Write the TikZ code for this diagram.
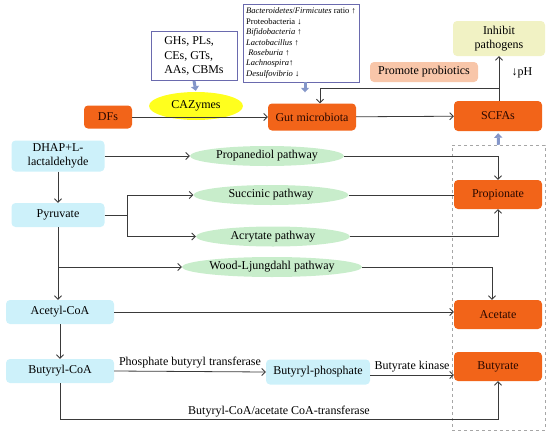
\documentclass[tikz,border=0pt]{standalone}
\usepackage{fontspec}
\setmainfont{Liberation Serif}
\usetikzlibrary{positioning, fit, arrows.meta, shapes.geometric}
\definecolor{scfaorange}{HTML}{F26419}
\definecolor{srccyan}{HTML}{CDF1FA}
\definecolor{pathgreen}{HTML}{C8EDCB}
\definecolor{cazyellow}{HTML}{FFFF1E}
\definecolor{probpeach}{HTML}{F8C6A9}
\definecolor{inhibyellow}{HTML}{F1F2C4}
\definecolor{boxnavy}{HTML}{6A6AAE}
\definecolor{fatblue}{HTML}{8496C9}
\definecolor{linegray}{HTML}{3A3A3A}
\definecolor{prodtext}{HTML}{2A0800}

\begin{document}
\begin{tikzpicture}[x=1pt, y=-1pt,
  prod/.style={fill=scfaorange, rounded corners=4pt, align=center,
               font=\fontsize{12}{14}\selectfont\color{prodtext},
               minimum width=88pt, minimum height=29pt, inner sep=2pt},
  src/.style={fill=srccyan, rounded corners=4pt, align=center,
              font=\fontsize{12}{14}\selectfont,
              minimum width=93pt, minimum height=24pt, inner sep=2pt},
  pway/.style={ellipse, fill=pathgreen, font=\fontsize{12}{14}\selectfont,
               minimum width=155pt, minimum height=20pt, inner sep=1pt},
  soft/.style={rounded corners=4pt, align=center,
               font=\fontsize{12}{14}\selectfont, inner sep=2pt},
  arr/.style={draw=linegray, line width=0.8pt,
              -{Straight Barb[length=3.5pt, width=7pt]}},
  plain/.style={draw=linegray, line width=0.8pt},
  fat/.style={draw=fatblue, line width=3pt, -{Triangle[length=4.5pt, width=8pt]}},
  lbl/.style={font=\fontsize{12}{14}\selectfont, inner sep=2pt},
]
\useasboundingbox (0,0) rectangle (550,437);

%% ---- Top row: fibre, enzymes, microbiota ----

\node[draw=boxnavy, line width=0.8pt, fill=white, align=left,
      font=\fontsize{12}{14.5}\selectfont,
      minimum width=86pt, minimum height=49pt] (ghs) at (194,56)
    {GHs, PLs,\\CEs, GTs,\\AAs, CBMs};

\node[ellipse, fill=cazyellow, font=\fontsize{12}{14}\selectfont,
      minimum width=94pt, minimum height=28pt] (caz) at (196,106) {CAZymes};

\node[prod, minimum width=48pt, minimum height=23pt] (dfs) at (108,117) {DFs};

\node[draw=boxnavy, line width=0.8pt, fill=white, align=left,
      font=\fontsize{8.5}{10.4}\selectfont, inner sep=3pt,
      minimum width=116pt, minimum height=78pt] (bact) at (301,43)
    {\textit{Bacteroidetes}/\textit{Firmicutes} ratio ↑\\
     Proteobacteria ↓\\
     \textit{Bifidobacteria} ↑\\
     \textit{Lactobacillus} ↑\\
     \ \textit{Roseburia} ↑\\
     \textit{Lachnospira}↑\\
     \textit{Desulfovibrio} ↓};

\node[prod, minimum width=88pt, minimum height=27pt] (gut) at (312,117) {Gut microbiota};

\node[soft, fill=probpeach, minimum width=108pt, minimum height=20pt]
    (promo) at (424,72) {Promote probiotics};

\node[soft, fill=inhibyellow, minimum width=92pt, minimum height=35pt]
    (inhib) at (499,38.5) {Inhibit\\pathogens};

\node[prod, minimum height=30pt] (scfa) at (498,116) {SCFAs};

\node[lbl] (ph) at (522,73) {↓pH};

\draw[fat, shorten >=1pt] (ghs.south) -- (caz.north);
\draw[fat, shorten >=11pt] ([xshift=4pt]bact.south) -- ([xshift=4pt]bact.south |- gut.north);
\draw[arr] (dfs) -- (gut);
\draw[arr] (gut) -- (scfa);
\draw[arr] ([xshift=1pt]scfa.north) -- ([xshift=1pt]scfa.north |- inhib.south);
\coordinate (fork) at ([xshift=1pt]scfa.north |- 0,88);
\draw[arr] (fork) -| ([xshift=8pt]gut.north);

%% ---- Products column ----

\node[prod] (propio) at (498,194.5) {Propionate};
\node[prod] (acet)   at (498,314.5) {Acetate};
\node[prod] (butyr)  at (498,366.5) {Butyrate};

\node[draw=gray!70, dashed, line width=0.5pt, inner sep=0pt,
      fit={(452,145) (545,430)}] (prodbox) {};
\draw[fat, shorten >=2pt] (prodbox.north) -- (scfa.south);

%% ---- Substrates and pathways ----

\node[src, minimum height=31pt] (dhap) at (58,156) {DHAP+L-\\lactaldehyde};
\node[src] (pyr) at (58,215) {Pyruvate};
\node[src, minimum width=108pt] (acoa) at (60,312) {Acetyl-CoA};
\node[src, minimum width=108pt] (bcoa) at (60,371) {Butyryl-CoA};
\node[src, minimum width=104pt, minimum height=25pt] (bphos) at (318,372) {Butyryl-phosphate};

\node[pway, minimum width=154pt] (propd) at (267,156) {Propanediol pathway};
\node[pway] (succ) at (271,195) {Succinic pathway};
\node[pway, minimum width=154pt] (acry) at (273,236.5) {Acrytate pathway};
\node[pway, minimum width=156pt] (wood) at (272,267) {Wood-Ljungdahl pathway};

%% ---- Propionate routes ----

\draw[arr] (dhap.east |- propd) -- (propd.west);
\draw[arr] (propd.east) -| (propio.north);
\draw[arr] (dhap) -- (pyr);
\coordinate[right=23pt of pyr.east] (split);
\draw[plain] (pyr.east) -- (split);
\draw[arr] (split) |- (succ.west);
\draw[arr] (split) |- (acry.west);
\draw[plain] (succ.east) -- (succ.east -| propio.west);
\draw[arr] (acry.east) -| (propio.south);

%% ---- Acetate and butyrate routes ----

\draw[arr] (pyr.south) -- (pyr.south |- acoa.north);
\draw[arr] (pyr.south |- wood.west) -- (wood.west);
\draw[arr] (wood.east) -| ([xshift=-6pt]acet.north);
\draw[arr] (acoa.east) -- (acoa.east -| acet.west);
\draw[arr] (acoa.south) -- (bcoa.north);
\draw[arr] (bcoa.east) -- node[lbl, above=1pt]{Phosphate butyryl transferase} (bphos.west);
\draw[arr] ([yshift=-3pt]bphos.east) -- node[lbl, above=1pt]{Butyrate kinase}
    ([yshift=-3pt]bphos.east -| butyr.west);
\coordinate (low) at (0,419);
\draw[arr] (bcoa.south) -- (bcoa.south |- low)
    -- node[lbl, above]{Butyryl-CoA/acetate CoA-transferase} (butyr.south |- low)
    -- (butyr.south);

\end{tikzpicture}
\end{document}
